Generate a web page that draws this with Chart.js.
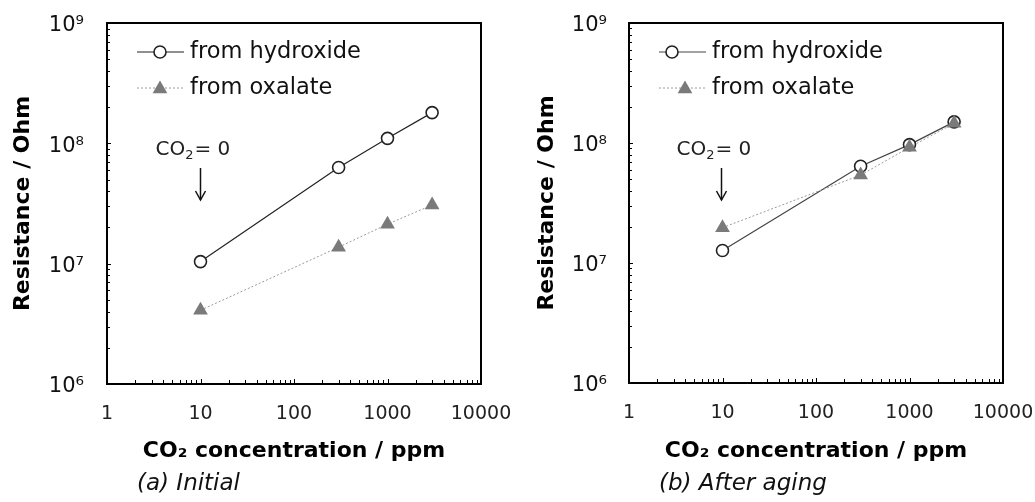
<!DOCTYPE html>
<html><head><meta charset="utf-8">
<script src="https://cdn.jsdelivr.net/npm/chart.js@4.4.1/dist/chart.umd.min.js"></script>
<style>
html,body{margin:0;padding:0;background:#fff;}
#wrap{position:relative;width:1035px;height:502px;overflow:hidden;}
.box{position:absolute;top:0;height:502px;}
</style></head><body>
<div id="wrap">
<div class="box" style="left:0;width:517px"><canvas id="c1"></canvas></div>
<div class="box" style="left:517px;width:518px"><canvas id="c2"></canvas></div>
</div>
<script>
// ---- data ----
const concentrations = [10, 300, 1000, 3000];
const hydroxideInitial = [1.04e7, 6.3e7, 1.1e8, 1.8e8];
const oxalateInitial = [4.1e6, 1.37e7, 2.13e7, 3.07e7];
const hydroxideAged = [1.27e7, 6.4e7, 9.7e7, 1.5e8];
const oxalateAged = [1.97e7, 5.4e7, 9.2e7, 1.46e8];
const xTickValues = [1, 10, 100, 1000, 10000];
const yTickValues = [1e6, 1e7, 1e8, 1e9];
const seriesNames = ['from hydroxide', 'from oxalate'];
const captions = ['(a) Initial', '(b) After aging'];
const xTitle = 'CO₂ concentration / ppm';
const yTitle = 'Resistance / Ohm';
const annotationParts = ['CO', '2', '= 0'];

const FONT = '"DejaVu Sans", "Liberation Sans", Arial, sans-serif';
const SUP = {0:'⁰',1:'¹',2:'²',3:'³',4:'⁴',5:'⁵',6:'⁶',7:'⁷',8:'⁸',9:'⁹'};

function decoPlugin(p) {
  return {
    id: 'deco',
    beforeDatasetsDraw(chart) {
      const ctx = chart.ctx, a = chart.chartArea;
      const xs = chart.scales.x, ys = chart.scales.y;
      ctx.save();
      ctx.strokeStyle = '#000';
      ctx.lineWidth = 1;
      for (let d = 0; d < 4; d++) {
        for (let k = 1; k <= 9; k++) {
          const v = k * Math.pow(10, d);
          const px = Math.round(xs.getPixelForValue(v)) + 0.5;
          const len = k === 1 ? 5 : 4;
          ctx.beginPath(); ctx.moveTo(px, a.bottom); ctx.lineTo(px, a.bottom - len); ctx.stroke();
        }
      }
      for (let d = 6; d < 9; d++) {
        for (let k = 1; k <= 9; k++) {
          const v = k * Math.pow(10, d);
          const py = Math.round(ys.getPixelForValue(v)) + 0.5;
          const len = k === 1 ? 4 : 3;
          ctx.beginPath(); ctx.moveTo(a.left, py); ctx.lineTo(a.left + len, py); ctx.stroke();
        }
      }
      ctx.lineWidth = 2;
      ctx.strokeRect(a.left, a.top, a.right - a.left, a.bottom - a.top);
      ctx.restore();
    },
    afterDraw(chart) {
      const ctx = chart.ctx, a = chart.chartArea;
      const xs = chart.scales.x;
      ctx.save();
      // legend
      const lx0 = a.left + 30, lx1 = a.left + 77, tx = a.left + 83;
      const rows = [a.top + 29, a.top + 65];
      ctx.strokeStyle = p.hydLine; ctx.lineWidth = 1.2; ctx.setLineDash([]);
      ctx.beginPath(); ctx.moveTo(lx0, rows[0]); ctx.lineTo(lx1, rows[0]); ctx.stroke();
      ctx.beginPath(); ctx.arc(a.left + p.circOff, rows[0], 6, 0, Math.PI * 2);
      ctx.fillStyle = '#fff'; ctx.fill(); ctx.strokeStyle = '#222'; ctx.lineWidth = 1.6; ctx.stroke();
      ctx.strokeStyle = '#9a9a9a'; ctx.lineWidth = 1; ctx.setLineDash([2, 2]);
      ctx.beginPath(); ctx.moveTo(lx0, rows[1]); ctx.lineTo(lx1, rows[1]); ctx.stroke();
      ctx.setLineDash([]);
      const r = 8.5, cx = a.left + p.triOff, cy = rows[1] + 1;
      ctx.beginPath();
      for (let i = 0; i < 3; i++) {
        const ang = i * 2 * Math.PI / 3;
        const X = cx + Math.sin(ang) * r, Y = cy - Math.cos(ang) * r;
        if (i === 0) ctx.moveTo(X, Y); else ctx.lineTo(X, Y);
      }
      ctx.closePath(); ctx.fillStyle = '#7a7a7a'; ctx.fill();
      ctx.fillStyle = '#111';
      ctx.font = '22.5px ' + FONT;
      ctx.textBaseline = 'middle'; ctx.textAlign = 'left';
      ctx.fillText(seriesNames[0], tx, rows[0]);
      ctx.fillText(seriesNames[1], tx, rows[1]);
      // annotation
      const x10 = xs.getPixelForValue(concentrations[0]) + p.arrowOff;
      let ax = x10 - 45;
      const ay = a.top + 127;
      ctx.font = '20px ' + FONT;
      ctx.fillStyle = '#222';
      ctx.fillText(annotationParts[0], ax, ay);
      ax += ctx.measureText(annotationParts[0]).width;
      ctx.font = '13px ' + FONT;
      ctx.fillText(annotationParts[1], ax, ay + 6);
      ax += ctx.measureText(annotationParts[1]).width + 1;
      ctx.font = '20px ' + FONT;
      ctx.fillText(annotationParts[2], ax, ay);
      ctx.strokeStyle = '#111'; ctx.lineWidth = 1.5;
      const y0 = a.top + 145, y1 = a.top + 177;
      ctx.beginPath(); ctx.moveTo(x10, y0); ctx.lineTo(x10, y1); ctx.stroke();
      ctx.beginPath(); ctx.moveTo(x10 - 5, y1 - 9); ctx.lineTo(x10, y1); ctx.lineTo(x10 + 5, y1 - 9); ctx.stroke();
      // caption
      ctx.font = 'italic 23px ' + FONT;
      ctx.fillStyle = '#111';
      ctx.fillText(p.caption, a.left + 30, 484);
      ctx.restore();
    }
  };
}

function makeChart(id, hyd, oxa, p) {
  return new Chart(document.getElementById(id), {
    type: 'line',
    data: {
      datasets: [
        {
          label: seriesNames[0],
          data: concentrations.map((c, i) => ({x: c, y: hyd[i]})),
          borderColor: p.hydLine, borderWidth: 1.2,
          pointStyle: 'circle', pointRadius: 6, pointBorderWidth: 1.6,
          pointBackgroundColor: '#fff', pointBorderColor: '#222',
          order: 1
        },
        {
          label: seriesNames[1],
          data: concentrations.map((c, i) => ({x: c, y: oxa[i]})),
          borderColor: '#9a9a9a', borderWidth: 1, borderDash: [2, 2],
          pointStyle: 'triangle', pointRadius: 8.5, pointBorderWidth: 0,
          pointBackgroundColor: '#7a7a7a', pointBorderColor: '#7a7a7a',
          order: 0
        }
      ]
    },
    options: {
      responsive: true, maintainAspectRatio: false, animation: false,
      layout: {padding: {left: 0, top: 23, right: p.padRight, bottom: 0}},
      plugins: {legend: {display: false}, tooltip: {enabled: false}},
      scales: {
        x: {
          type: 'logarithmic', min: 1, max: 10000, position: 'bottom',
          grid: {display: false}, border: {display: false},
          afterBuildTicks: s => { s.ticks = xTickValues.map(v => ({value: v})); },
          afterFit: s => { s.height = p.xHeight; s.paddingLeft = 0; s.paddingRight = 0; },
          ticks: {
            autoSkip: false, maxRotation: 0, padding: 11, color: '#222',
            font: {family: FONT, size: 19},
            callback: v => String(v)
          },
          title: {
            display: true, text: xTitle, color: '#000',
            font: {family: FONT, size: 22, weight: 'bold'},
            padding: {top: 0, bottom: 38}
          }
        },
        y: {
          type: 'logarithmic', min: 1e6, max: 1e9, position: 'left',
          grid: {display: false}, border: {display: false},
          afterBuildTicks: s => { s.ticks = yTickValues.map(v => ({value: v})); },
          afterFit: s => { s.width = p.yWidth; s.paddingTop = 0; s.paddingBottom = 0; },
          ticks: {
            autoSkip: false, padding: p.yPad, color: '#111', labelOffset: 3,
            font: {family: FONT, size: 21},
            callback: v => '10' + String(Math.round(Math.log10(v))).split('').map(c => SUP[c]).join('')
          },
          title: {
            display: true, text: yTitle, color: '#000',
            font: {family: FONT, size: 22, weight: 'bold'},
            padding: {top: p.yTitlePad, bottom: 0}
          }
        }
      }
    },
    plugins: [decoPlugin(p)]
  });
}

makeChart('c1', hydroxideInitial, oxalateInitial, {
  caption: captions[0], padRight: 36, xHeight: 118, yWidth: 107, yPad: 15, yTitlePad: 10,
  hydLine: '#222', circOff: 53, triOff: 53, arrowOff: 0
});
makeChart('c2', hydroxideAged, oxalateAged, {
  caption: captions[1], padRight: 32, xHeight: 119, yWidth: 112, yPad: 14, yTitlePad: 17,
  hydLine: '#444', circOff: 43, triOff: 56, arrowOff: -1
});
</script>
</body></html>
